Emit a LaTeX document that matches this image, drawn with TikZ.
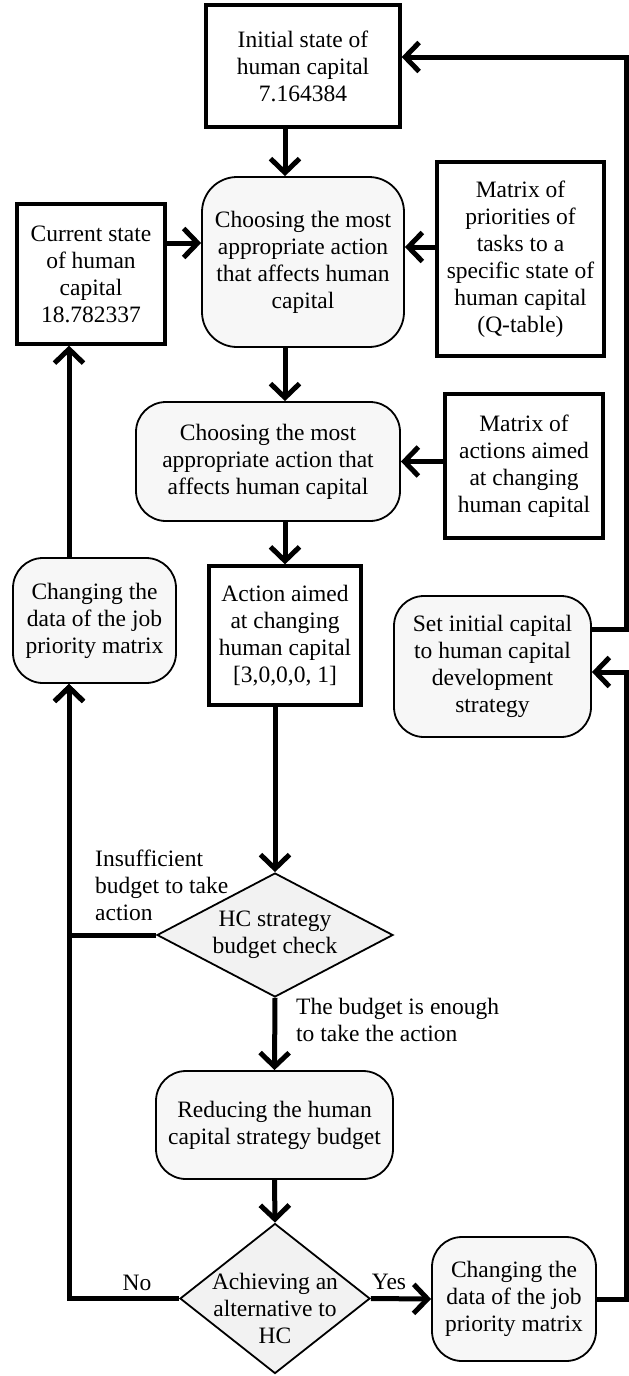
\documentclass[tikz,border=0pt]{standalone}
\usepackage{fontspec}
\setmainfont{Liberation Serif}
\usetikzlibrary{shapes.geometric,arrows.meta,calc}

\tikzset{
  box/.style={draw, line width=3.3pt, fill=white, align=center, inner sep=0pt},
  rbox/.style={draw, line width=1.8pt, fill=black!3, rounded corners=30pt, align=center, inner sep=0pt},
  decision/.style={draw, diamond, line width=1.8pt, fill=black!5, align=center, inner sep=-30pt},
  arr/.style={line width=5pt, -{Straight Barb[length=14pt,width=29pt]}},
  lbl/.style={align=left, inner sep=0pt}
}

\begin{document}
\begin{tikzpicture}[x=1pt, y=-1pt, font=\fontsize{23.5}{27}\selectfont]
\useasboundingbox (0,0) rectangle (629,1376);

% top part
\node[box, minimum width=194pt, minimum height=122pt] (init) at (303,66) {Initial state of\\human capital\\7.164384};
\node[rbox, rounded corners=35pt, minimum width=202pt, minimum height=170pt] (choose1) at (303,262) {Choosing the most\\appropriate action\\that affects human\\capital};
\node[box, minimum width=148pt, minimum height=140pt] (cur) at (91,274) {Current state\\of human\\capital\\18.782337};
\node[box, minimum width=167pt, minimum height=194pt] (qtab) at (520.5,259) {Matrix of\\priorities of\\tasks to a\\specific state of\\human capital\\(Q-table)};
\node[rbox, minimum width=264pt, minimum height=119pt] (choose2) at (268,461.5) {Choosing the most\\appropriate action that\\affects human capital};
\node[box, minimum width=158pt, minimum height=144pt] (amat) at (524,466) {Matrix of\\actions aimed\\at changing\\human capital};
\node[box, minimum width=152pt, minimum height=139pt] (act) at (285,635.5) {Action aimed\\at changing\\human capital\\{[3,0,0,0, 1]}};
\node[rbox, minimum width=163pt, minimum height=125pt] (chgL) at (94.5,620.5) {Changing the\\data of the job\\priority matrix};
\node[rbox, minimum width=197pt, minimum height=141pt] (setc) at (492.5,666.5) {Set initial capital\\to human capital\\development\\strategy};

% bottom part
\node[decision, minimum width=236pt, minimum height=124pt] (dia1) at (275,935) {HC strategy\\budget check};
\node[rbox, minimum width=237pt, minimum height=108pt] (red) at (274.5,1125) {Reducing the human\\capital strategy budget};
\node[decision, minimum width=190pt, minimum height=150pt] (dia2) at (275,1298.5) {\mbox{}\\[10pt]Achieving an\\alternative to\\HC};
\node[rbox, minimum width=164pt, minimum height=124pt] (chgR) at (514,1299) {Changing the\\data of the job\\priority matrix};

% labels
\node[lbl, anchor=west] (insuf) at (95,885) {Insufficient\\budget to take\\action};
\node[lbl, anchor=west] (enough) at (296,1020) {The budget is enough\\to take the action};
\node[lbl] (no) at (137,1283) {No};
\node[lbl] (yes) at (389,1282) {Yes};

% arrows
\draw[arr] (init.south -| act) -- (choose1.north -| act);
\draw[arr] ([yshift=31pt]cur.east) -- ([yshift=31pt]cur.east -| choose1.west);
\draw[arr] ([yshift=12pt]qtab.west) -- ([yshift=12pt]qtab.west -| choose1.east);
\draw[arr] (choose1.south -| act) -- (choose2.north -| act);
\draw[arr] (amat.west |- choose2) -- (choose2.east);
\draw[arr] (choose2.south -| act) -- (act.north);
\draw[arr] (act.south -| dia1) -- (dia1.north);
\draw[arr] (dia1.west) -| ([xshift=-25.5pt]chgL.south);
\draw[arr] (dia2.west) -| ([xshift=-25.5pt]chgL.south);
\draw[arr] ([xshift=-25.5pt]chgL.north) -- ([xshift=-25.5pt]chgL.north |- cur.south);
\draw[arr] (dia1.south) -- (red.north);
\draw[arr] (red.south) -- (dia2.north);
\draw[arr] (dia2.east) -- (chgR.west);
\draw[arr] (chgR.east) -- ++(30,0) |- ([yshift=-5.5pt]setc.east);
\draw[arr] ([yshift=37.5pt]setc.east) -- ++(35,0) |- ([yshift=9pt]init.east);
\end{tikzpicture}
\end{document}
